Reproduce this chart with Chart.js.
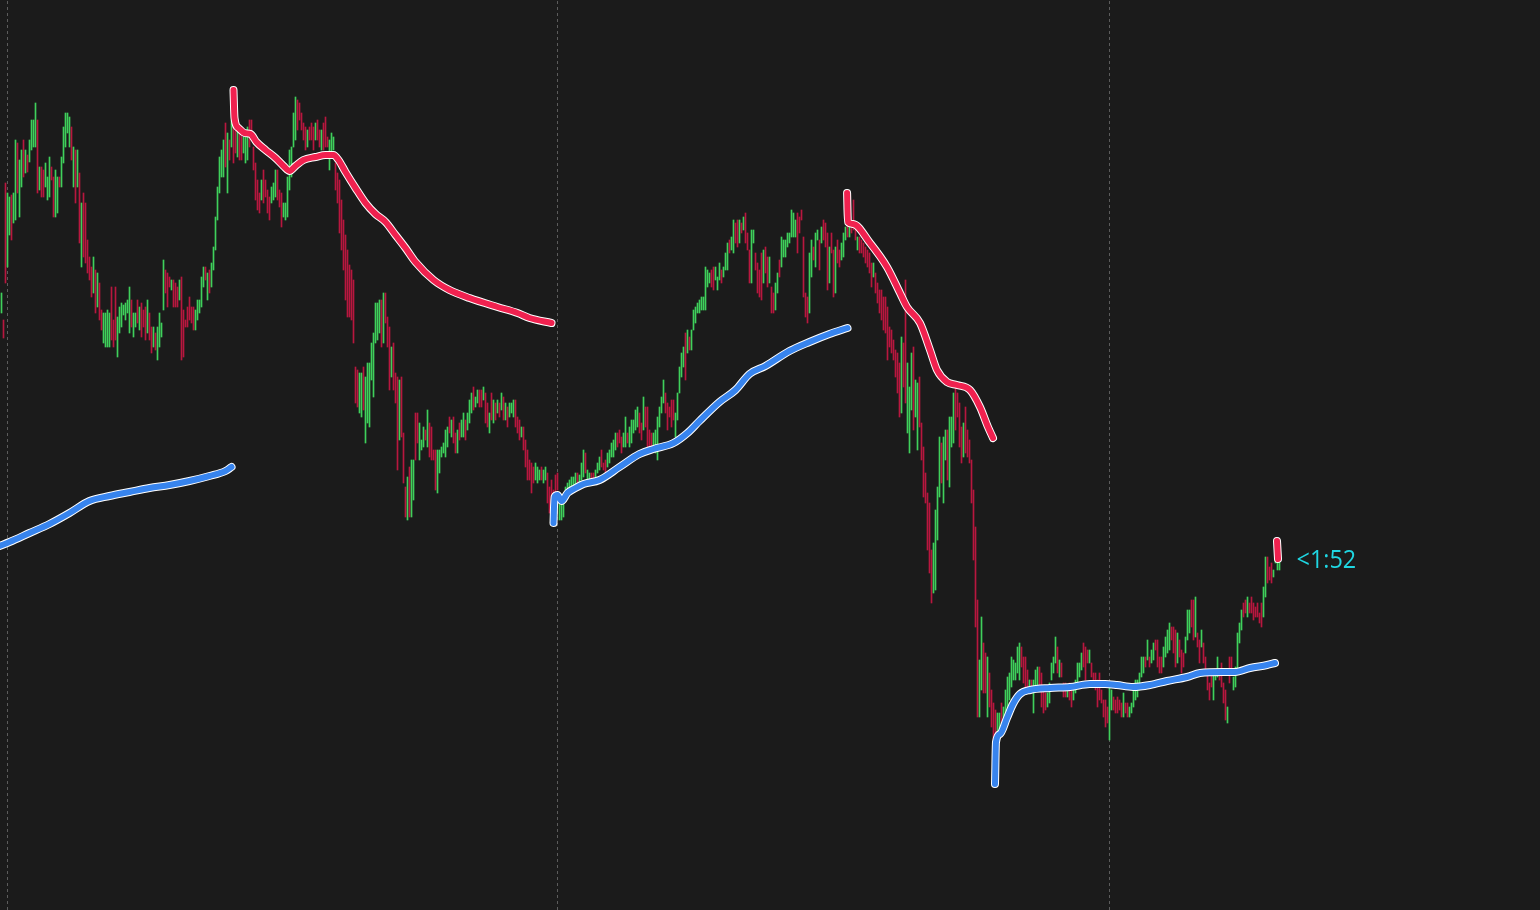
<!DOCTYPE html>
<html><head><meta charset="utf-8">
<script src="https://cdn.jsdelivr.net/npm/chart.js@4.4.1/dist/chart.umd.min.js"></script>
<style>html,body{margin:0;padding:0;background:#1b1b1b;overflow:hidden}#wrap{width:1540px;height:910px}</style>
</head><body><div id="wrap"><canvas id="c" width="1540" height="910"></canvas></div>
<script>
// 5-minute bars: high / low (price points), direction g=up r=down
const HIGH = [
617,590,727,717,713,715,717,770,767,750, 760,770,760,755,770,790,790,807,790,743,
743,740,747,733,753,743,733,740,733,733, 753,783,797,797,793,783,763,760,760,737,
707,717,707,670,653,643,653,640,637,627, 600,597,597,600,597,623,590,623,593,603,
607,605,607,610,623,610,597,597,610,603, 607,600,603,610,597,583,583,577,583,597,
587,650,640,637,633,630,630,627,623,630, 633,600,590,603,613,603,603,600,610,610,
633,643,643,637,640,647,663,693,723,753, 760,770,787,777,770,790,787,780,783,777,
783,773,777,783,790,790,763,747,730,717, 730,740,730,720,713,723,727,740,740,720,
717,707,707,733,760,763,797,813,810,807, 797,787,783,780,783,787,783,787,790,780,
780,787,793,773,770,777,773,747,737,730, 710,690,675,660,645,640,630,543,540,537,
537,543,533,547,547,567,577,607,607,610, 610,617,617,593,583,563,567,537,533,530,
533,477,423,433,443,450,450,497,497,487, 470,483,480,500,487,483,460,460,460,460,
463,467,480,483,493,490,493,477,480,487, 490,497,490,497,510,517,523,513,520,520,
520,523,517,507,497,517,510,507,510,507, 517,513,507,503,507,507,510,510,493,490,
483,483,470,460,450,447,443,447,443,440, 443,440,443,437,423,430,420,435,437,413,
410,407,423,427,430,433,433,437,437,435, 447,460,457,440,437,437,437,440,447,453,
460,447,450,457,460,467,470,477,477,480, 473,477,493,477,483,490,490,500,503,497,
487,513,503,503,480,477,477,480,493,503, 513,530,517,507,503,510,510,497,517,543,
557,563,577,580,573,580,600,603,607,610, 613,613,643,640,637,640,643,643,633,647,
640,643,657,667,670,673,690,687,690,690, 687,693,697,677,660,680,680,657,647,640,
657,660,663,653,653,623,617,627,637,650, 673,670,670,677,677,700,697,690,697,693,
700,673,617,613,657,670,663,677,680,670, 683,690,687,677,663,677,660,663,670,660,
667,677,683,687,683,687,710,680,673,673, 670,667,663,660,657,647,647,637,627,620,
620,613,613,603,583,580,570,560,557,547, 573,567,630,547,523,557,563,530,527,533,
487,463,437,417,407,360,367,400,423,473, 467,473,480,480,493,493,517,523,517,507,
483,487,503,480,470,450,420,383,310,250, 293,267,257,253,237,220,207,200,197,197,
207,203,220,233,237,253,250,247,263,267, 263,253,253,240,230,230,230,240,243,243,
237,223,217,217,227,247,253,273,263,250, 247,227,227,223,227,223,220,230,247,247,
257,267,263,260,260,247,237,237,230,237, 220,210,210,203,223,220,213,210,213,210,
207,217,207,207,203,207,220,230,230,237, 253,253,253,270,253,260,267,270,270,253,
253,263,273,280,287,283,283,280,277,270, 260,257,273,300,300,310,310,313,277,270,
280,267,253,237,227,240,237,237,253,240, 247,227,220,203,253,253,233,243,277,287,
300,307,310,313,307,313,307,303,307,297, 307,323,353,353,343,347,340,353,353,350
];
const LOW = [
597,572,627,643,675,670,687,690,717,693, 723,733,737,738,748,760,763,763,717,720,
713,713,723,710,713,730,693,693,697,723, 723,747,763,777,763,750,723,707,723,667,
643,653,647,637,630,613,617,597,603,590, 580,567,563,563,563,570,563,570,553,577,
583,595,590,597,577,583,573,583,587,580, 573,583,570,577,570,557,563,560,550,563,
573,600,617,603,623,620,603,603,603,610, 550,553,583,583,590,587,580,580,590,597,
603,623,630,610,617,623,640,660,690,717, 733,733,743,717,750,763,747,757,753,750,
750,757,747,750,763,777,740,710,700,697, 710,707,713,697,690,707,710,713,710,703,
683,693,690,693,720,733,763,770,780,790, 780,770,760,763,770,770,760,770,770,763,
760,760,763,763,740,753,760,720,707,677, 660,640,610,593,593,590,567,507,503,497,
493,500,467,487,483,530,513,567,570,577, 563,567,587,563,520,533,520,507,440,470,
473,427,393,390,393,393,410,450,467,450, 460,463,470,463,453,450,450,420,417,437,
453,457,453,463,477,473,467,457,457,470, 473,473,470,480,487,497,500,503,507,503,
503,510,487,483,477,490,487,490,497,493, 500,490,490,483,493,497,493,483,477,470,
473,460,443,430,430,417,427,430,427,430, 430,427,430,407,397,400,410,405,420,390,
390,393,410,417,417,420,423,423,423,427, 430,433,437,430,430,430,430,433,437,440,
443,440,437,443,447,453,453,460,463,467, 457,463,463,467,463,467,477,480,483,477,
470,480,483,463,463,457,463,457,450,483, 497,507,497,480,493,483,490,473,490,517,
533,543,530,557,560,560,580,587,597,597, 600,600,600,623,627,623,620,630,620,630,
627,633,640,640,657,660,657,667,663,667, 677,680,667,660,627,627,667,640,617,613,
610,627,637,623,627,597,597,600,617,633, 643,653,653,663,667,673,673,673,657,677,
690,613,593,587,597,633,650,643,670,640, 667,670,663,620,627,657,613,617,647,643,
650,653,670,673,673,677,680,670,660,657, 657,653,647,643,637,623,633,617,607,597,
590,580,577,550,563,557,550,533,517,493, 497,523,507,477,457,500,480,493,460,483,
450,413,407,360,337,307,317,320,370,413, 427,407,450,430,423,463,467,480,493,463,
447,453,457,453,447,407,350,283,193,193, 220,217,217,193,203,183,170,165,170,180,
187,190,190,197,210,223,230,230,237,230, 243,227,220,220,220,217,197,220,220,223,
203,197,200,203,207,230,237,247,237,233, 233,213,213,213,210,203,210,217,227,233,
240,243,230,247,247,233,223,220,203,210, 207,193,183,187,170,200,200,197,197,200,
193,193,197,193,193,197,203,210,213,220, 233,237,243,250,243,247,250,260,243,237,
237,243,253,257,260,270,257,243,247,253, 237,243,257,270,277,283,270,273,263,247,
263,247,240,220,210,223,210,230,233,230, 223,207,190,187,227,237,220,223,237,267,
280,293,297,293,297,297,290,293,293,287, 283,293,313,327,330,327,333,347,340,340
];
const DIR = (
"grrggrggrg"+"grgrggggrg"+"rrgggrrggr"+"gggggrgrgr"+"grrrrrgrgr"+"rggggrrrgg"+"gggggrggrg"+"rrrgrrgrgg"+
"ggrrrgrrrg"+"rrrrrrrggg"+"ggrgrggggg"+"ggrgrgrrgr"+"rgggrrrrrr"+"grrrrgggrr"+"rgggggggrr"+"rrrgrrrgrr"+
"grrrgggrrr"+"rrrrrrrrrg"+"grgggggggg"+"rgrrrgrrrg"+"rrrgrggrrg"+"ggrgrrrrgg"+"ggggrgrrgr"+"ggrgggrggr"+
"rgrrgrgrgr"+"grgrgggrrr"+"grrrrrrggg"+"rggrrrrrrg"+"ggggggggrg"+"ggrggrrggg"+"rrrgggggrr"+"rggrgggggr"+
"rgrrrrgggg"+"ggrrrrrggg"+"ggrgrggggg"+"gggggrrggg"+"rgggrggrrg"+"rgrrrggrrr"+"rgrrgrrggr"+"ggggggggrr"+
"rrrrggrggr"+"grrrgrrgrr"+"gggrgrrrgr"+"rrrrrrgrrr"+"rrrrrrrrrr"+"grrgggrggr"+"rrrrrrgggg"+"rggrgggrrr"+
"rgrrrrrrrg"+"grrgrrrrgg"+"rggggggggg"+"rrrrgrgggr"+"rrrgggggrg"+"rrrgrrgggg"+"grrrgrrrrr"+"rrrrggrrrr"+
"rgrrgggggg"+"ggrgrggrrr"+"rggggrrrgr"+"rrgggrrgrr"+"grrrrrgggr"+"rrrgrrgggg"+"grrgrrrrrr"+"rggrrrgggg"
).split('');

// anchored VWAP segments: bar index / price
const blue1X = [-1,4,14,24,34,44,54,64,74,84,94,104,112,115];
const blue1Y = [364,368,377,386,397,409,414,418,422,425,429,434,439,443];
const red1X = [116,116.5,118.5,121.5,124.5,127.5,132,137,141,144,147,151,157,162,166,168.5,172,177,182,187,192,197,202,207,216,224,234,248,258,264,275];
const red1Y = [820,792,782,777,776,768,760,752,744,739,744,750,753,755,755,750,738,722,707,696,688,675,662,648,630,620,612,603,597,592,587];
const blue2X = [276,276.5,278,280,283,287,291,299,309,319,326,336,343,349,359,367,374,382,394,404,414,423];
const blue2Y = [387,413,415,409,417,422,426,430,443,456,461,467,477,489,508,520,536,544,559,568,576,582];
const red2X = [422.8,423.2,425.8,434.25,442.75,449.25,452.75,459.25,464.25,467.75,472.75,477.75,484.25,489.25,493.25,495.75];
const red2Y = [717,688,686,667,643,617,603,587,560,540,528,525,520,503,483,472];
const blue3X = [496.75,497.25,499.25,502.75,505.75,509.25,514.25,524.25,534.25,544.25,551.75,557.75,565.75,574.25,582.75,592.75,599.25,610.75,616.75,624.25,632.75,636.75];
const blue3Y = [126,168,176,192,206,216,220,222,223,226,226,225,223,225,229,233,237,238,238,242,245,247];
const red3X = [637.75,638.25];
const red3Y = [369,351];

const sessionBreaks = [3, 278, 554];
const timerLabel = "<1:52";

const GREEN = '#3fd05b', RED = '#b8173f', LRED = '#f0214f', LBLUE = '#3784ee';

if (HIGH.length !== LOW.length || DIR.length !== HIGH.length) console.error('length mismatch', HIGH.length, LOW.length, DIR.length);

const pts = (xs, ys) => xs.map((x, k) => ({x: x, y: ys[k]}));
const bars = HIGH.map((h, i) => ({x: i, y: [LOW[i], h]}));

const datasets = [];
function addLine(xs, ys, color) {
  const base = {type: 'line', pointRadius: 0, fill: false,
    cubicInterpolationMode: 'monotone', borderCapStyle: 'round', borderJoinStyle: 'round'};
  datasets.push(Object.assign({}, base, {data: pts(xs, ys), borderColor: color, borderWidth: 6, order: 1}));
  datasets.push(Object.assign({}, base, {data: pts(xs, ys), borderColor: '#ffffff', borderWidth: 8, order: 2}));
}
addLine(blue1X, blue1Y, LBLUE);
addLine(red1X, red1Y, LRED);
addLine(blue2X, blue2Y, LBLUE);
addLine(red2X, red2Y, LRED);
addLine(blue3X, blue3Y, LBLUE);
addLine(red3X, red3Y, LRED);

datasets.push({type: 'bar', data: bars, barThickness: 1, borderWidth: 0, grouped: false, order: 10,
  backgroundColor: (ctx) => DIR[ctx.dataIndex] === 'g' ? GREEN : RED});

sessionBreaks.forEach(s => datasets.push({type: 'line', data: [{x: s, y: 0}, {x: s, y: 910}],
  borderColor: '#5c5c5c', borderWidth: 1, borderDash: [3, 3], pointRadius: 0, fill: false, order: 20}));

const bgPlugin = {id: 'bg', beforeDraw(chart) {
  const c = chart.ctx; c.save(); c.fillStyle = '#1b1b1b'; c.fillRect(0, 0, chart.width, chart.height); c.restore(); }};
const labelPlugin = {id: 'timer', afterDatasetsDraw(chart) {
  const c = chart.ctx, xs = chart.scales.x, ys = chart.scales.y;
  const x = xs.getPixelForValue(HIGH.length - 1) + 17;
  const y = ys.getPixelForValue(red3Y[red3Y.length - 1]) + 9;
  c.save(); c.translate(x, y); c.scale(0.9, 1);
  c.fillStyle = '#1fd6e2'; c.font = '26px "Open Sans"'; c.textBaseline = 'alphabetic';
  c.fillText(timerLabel, 0, 0); c.restore(); }};

new Chart(document.getElementById('c'), {
  type: 'bar',
  data: {datasets},
  options: {
    responsive: false, animation: false, devicePixelRatio: 1, events: [],
    layout: {padding: 0},
    plugins: {legend: {display: false}, tooltip: {enabled: false}},
    scales: {
      x: {type: 'linear', min: -0.75, max: 769.25, offset: false, display: false},
      y: {type: 'linear', min: 0, max: 910, display: false}
    }
  },
  plugins: [bgPlugin, labelPlugin]
});
</script></body></html>
